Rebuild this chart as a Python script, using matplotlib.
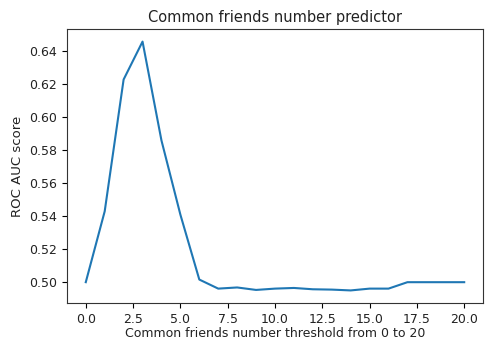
import matplotlib
matplotlib.use("Agg")
import matplotlib.pyplot as plt

thresholds = list(range(0, 21))
auc_scores = [0.500, 0.543, 0.623, 0.646, 0.586, 0.541, 0.5016, 0.4961, 0.4968,
              0.4953, 0.4961, 0.4965, 0.4957, 0.4955, 0.4950, 0.4961, 0.4961,
              0.500, 0.500, 0.500, 0.500]

fig = plt.figure(figsize=(4.88, 3.43), dpi=100)
ax = fig.add_axes([0.137, 0.117, 0.853, 0.798])
ax.plot(thresholds, auc_scores, color='#1f77b4', linewidth=1.5)
ax.set_title("Common friends number predictor", fontsize=10.5, color='#222222', pad=5)
ax.set_xlabel("Common friends number threshold from 0 to 20", fontsize=9, color='#222222', labelpad=1)
ax.set_ylabel("ROC AUC score", fontsize=9.5, color='#222222', labelpad=4)
ax.set_xticks([0, 2.5, 5, 7.5, 10, 12.5, 15, 17.5, 20])
ax.set_yticks([0.50, 0.52, 0.54, 0.56, 0.58, 0.60, 0.62, 0.64])
ax.tick_params(labelsize=9, labelcolor='#222222')
for s in ax.spines.values():
    s.set_color('#333333')
fig.savefig("out.png", dpi=100)
